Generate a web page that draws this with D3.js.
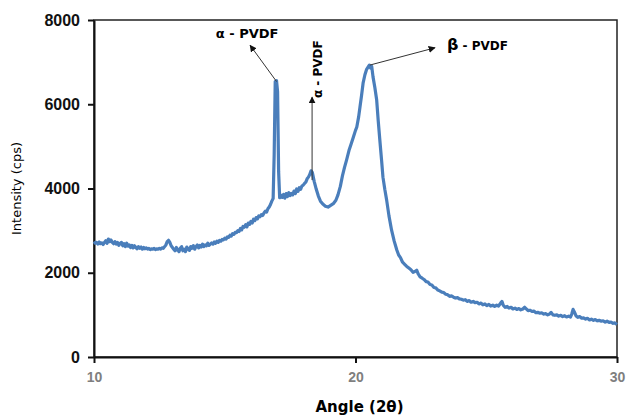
<!DOCTYPE html>
<html>
<head>
<meta charset="utf-8">
<script src="https://cdnjs.cloudflare.com/ajax/libs/d3/7.8.5/d3.min.js"></script>
<style>
  body { margin: 0; background: #fff; }
  svg { font-family: "DejaVu Sans", sans-serif; }
  .line { fill: none; stroke: #4a7ebb; stroke-width: 3.2; stroke-linejoin: round; }
</style>
</head>
<body>
<script>
// XRD scan (one row per half degree where it is dense)
var angle = [
  10.00, 10.05, 10.10, 10.15, 10.20, 10.25, 10.30, 10.35, 10.40, 10.45,
  10.50, 10.55, 10.60, 10.65, 10.70, 10.75, 10.80, 10.85, 10.90, 10.95,
  11.00, 11.05, 11.10, 11.15, 11.20, 11.25, 11.30, 11.35, 11.40, 11.45,
  11.50, 11.55, 11.60, 11.65, 11.70, 11.75, 11.80, 11.85, 11.90, 11.95,
  12.00, 12.05, 12.10, 12.15, 12.20, 12.25, 12.30, 12.35, 12.40, 12.45,
  12.50, 12.55, 12.60, 12.65, 12.70, 12.75, 12.80, 12.85, 12.90, 12.95,
  13.00, 13.05, 13.10, 13.15, 13.20, 13.25, 13.30, 13.35, 13.40, 13.45,
  13.50, 13.55, 13.60, 13.65, 13.70, 13.75, 13.80, 13.85, 13.90, 13.95,
  14.00, 14.05, 14.10, 14.15, 14.20, 14.25, 14.30, 14.35, 14.40, 14.45,
  14.50, 14.55, 14.60, 14.65, 14.70, 14.75, 14.80, 14.85, 14.90, 14.95,
  15.00, 15.05, 15.10, 15.15, 15.20, 15.25, 15.30, 15.35, 15.40, 15.45,
  15.50, 15.55, 15.60, 15.65, 15.70, 15.75, 15.80, 15.85, 15.90, 15.95,
  16.00, 16.05, 16.10, 16.15, 16.20, 16.25, 16.30, 16.35, 16.40, 16.45,
  16.50, 16.55, 16.60, 16.65, 16.70, 16.75, 16.80, 16.85,
  16.89, 16.93, 16.98, 17.02, 17.06,
  17.10, 17.15, 17.20, 17.25, 17.30, 17.35, 17.40, 17.45, 17.50, 17.55,
  17.60, 17.65, 17.70, 17.75, 17.80, 17.85, 17.90, 17.95, 18.00, 18.05,
  18.10, 18.15, 18.20, 18.25, 18.30, 18.35,
  18.42, 18.50, 18.58, 18.66, 18.75, 18.85, 18.95,
  19.05, 19.15, 19.25, 19.33, 19.42, 19.50, 19.58, 19.66, 19.75, 19.83, 19.92,
  20.00, 20.05, 20.12, 20.17, 20.23, 20.29, 20.36, 20.42, 20.48, 20.53, 20.58, 20.62, 20.67, 20.74, 20.81, 20.87, 20.94,
  21.00, 21.05, 21.12, 21.19, 21.28, 21.38, 21.48,
  21.58, 21.65, 21.72, 21.80, 21.88, 21.96, 22.04, 22.12, 22.20, 22.27,
  22.34, 22.40, 22.47, 22.55, 22.62, 22.70, 22.77, 22.85, 22.92, 23.00,
  23.07, 23.15, 23.22, 23.30, 23.37, 23.45, 23.52, 23.60, 23.67, 23.75,
  23.82, 23.90, 23.97, 24.05, 24.12, 24.20, 24.27, 24.35, 24.42, 24.50,
  24.57, 24.65, 24.72, 24.80, 24.87, 24.95, 25.02, 25.10, 25.17, 25.25,
  25.32, 25.40, 25.47, 25.55, 25.60, 25.65, 25.72, 25.80, 25.87, 25.95,
  26.02, 26.10, 26.17, 26.25, 26.32, 26.40, 26.47, 26.52, 26.60, 26.67,
  26.75, 26.82, 26.90, 26.97, 27.05, 27.12, 27.20, 27.27, 27.35, 27.42,
  27.48, 27.55, 27.62, 27.70, 27.77, 27.85, 27.92, 28.00, 28.07, 28.15,
  28.22, 28.27, 28.32, 28.37, 28.43, 28.50, 28.57, 28.65, 28.72, 28.80,
  28.87, 28.95, 29.02, 29.10, 29.17, 29.25, 29.32, 29.40, 29.47, 29.55,
  29.62, 29.70, 29.77, 29.85, 29.92, 30.00];

var intensity = [
  2740, 2700, 2720, 2680, 2730, 2690, 2710, 2670, 2720, 2760,
  2700, 2800, 2740, 2780, 2720, 2690, 2740, 2680, 2720, 2650,
  2700, 2720, 2640, 2690, 2620, 2700, 2630, 2660, 2600, 2650,
  2590, 2640, 2600, 2570, 2620, 2580, 2610, 2560, 2600, 2570,
  2590, 2560, 2580, 2550, 2570, 2560, 2580, 2550, 2570, 2560,
  2580, 2560, 2590, 2580, 2620, 2660, 2740, 2770, 2720, 2640,
  2600, 2560, 2520, 2600, 2550, 2500, 2580, 2620, 2520, 2560,
  2500, 2610, 2560, 2530, 2620, 2580, 2640, 2560, 2620, 2660,
  2590, 2650, 2610, 2680, 2620, 2660, 2640, 2700, 2650, 2680,
  2710, 2680, 2730, 2700, 2750, 2720, 2770, 2750, 2790, 2780,
  2820, 2800, 2850, 2840, 2890, 2870, 2930, 2910, 2960, 2950,
  3000, 2980, 3050, 3020, 3100, 3080, 3140, 3090, 3180, 3150,
  3220, 3180, 3270, 3240, 3310, 3280, 3350, 3330, 3380, 3360,
  3420, 3460, 3440, 3520, 3560, 3620, 3700, 3760,
  4800, 6540, 6560, 6300, 4400,
  3780, 3840, 3790, 3860, 3770, 3880, 3810, 3900, 3830, 3880,
  3850, 3940, 3880, 3990, 3930, 4020, 3980, 4060, 4080, 4120,
  4150, 4230, 4270, 4330, 4420, 4380,
  4170, 3980, 3820, 3700, 3630, 3580, 3560,
  3600, 3640, 3720, 3850, 4050, 4300, 4500, 4680, 4900, 5050, 5220,
  5380, 5460, 5700, 5930, 6200, 6500, 6700, 6820, 6880, 6930, 6860, 6900, 6650, 6400, 6100, 5600, 5080,
  4650, 4270, 3980, 3730, 3350, 3010, 2750,
  2540, 2420, 2360, 2250, 2200, 2150, 2110, 2070, 2010, 2030,
  2060, 1970, 1900, 1870, 1840, 1790, 1780, 1720, 1710, 1650,
  1640, 1590, 1570, 1540, 1530, 1490, 1480, 1440, 1450, 1420,
  1400, 1410, 1380, 1370, 1350, 1360, 1320, 1340, 1300, 1320,
  1290, 1300, 1260, 1280, 1240, 1260, 1220, 1250, 1210, 1230,
  1200, 1230, 1210, 1280, 1320, 1230, 1180, 1200, 1160, 1180,
  1140, 1160, 1130, 1150, 1120, 1140, 1180, 1150, 1100, 1110,
  1080, 1090, 1050, 1060, 1040, 1050, 1020, 1030, 1000, 1020,
  1060, 1000, 990, 1000, 970, 990, 960, 980, 950, 970,
  950, 1020, 1130, 1070, 980, 940, 960, 920, 930, 900,
  920, 880, 900, 870, 890, 860, 870, 850, 860, 830,
  850, 820, 830, 800, 810, 770];

var xTicks = [10, 20, 30];
var yTicks = [0, 2000, 4000, 6000, 8000];

// peak labels: arrow from the peak to the tip (data units)
var peakLabels = ["α - PVDF", "α - PVDF", "β - PVDF"];
var peakAngle = [16.98, 18.34, 20.55];
var peakValue = [6540, 4200, 6930];
var tipAngle = [15.97, 18.34, 23.04];
var tipValue = [7400, 6170, 7340];

var W = 627, H = 416;
var margin = { top: 20, right: 10, bottom: 59, left: 94 }
  , width = W - margin.left - margin.right
  , height = H - margin.top - margin.bottom;

var x = d3.scaleLinear().domain([10, 30]).range([0, width]);
var y = d3.scaleLinear().domain([0, 8000]).range([height, 0]);

var svg = d3.select("body").append("svg")
  .attr("width", W)
  .attr("height", H);

svg.append("defs").append("marker")
  .attr("id", "arrow")
  .attr("viewBox", "0 0 10 10")
  .attr("refX", 9).attr("refY", 5)
  .attr("markerWidth", 7).attr("markerHeight", 7)
  .attr("markerUnits", "userSpaceOnUse")
  .attr("orient", "auto")
  .append("path")
  .attr("d", "M0,0L10,5L0,10z")
  .attr("fill", "#111");

var g = svg.append("g")
  .attr("transform", "translate(" + margin.left + "," + margin.top + ")");

// box round the plot
g.append("rect")
  .attr("width", width)
  .attr("height", height)
  .attr("fill", "none")
  .attr("stroke", "#222")
  .attr("stroke-width", 1.5);

var xAxis = g.append("g")
  .attr("transform", "translate(0," + height + ")")
  .call(d3.axisBottom(x).tickValues(xTicks).tickSize(6).tickPadding(9).tickSizeOuter(0));
xAxis.selectAll("text")
  .attr("fill", "#7f7f7f")
  .style("font-size", "14px")
  .style("font-weight", "bold");

var yAxis = g.append("g")
  .call(d3.axisLeft(y).tickValues(yTicks).tickFormat(d3.format("d"))
    .tickSize(6).tickPadding(8).tickSizeOuter(0));
yAxis.selectAll("text")
  .attr("fill", "#111")
  .style("font-size", "16px")
  .style("font-weight", "bold");

g.selectAll(".domain, .tick line").attr("stroke", "#111").attr("stroke-width", 2);

// axis titles
svg.append("text")
  .attr("x", margin.left + x(20) + 4)
  .attr("y", 412)
  .attr("text-anchor", "middle")
  .style("font-size", "15px")
  .style("font-weight", "bold")
  .text("Angle (2θ)");

svg.append("text")
  .attr("transform", "translate(21," + (margin.top + height / 2) + ") rotate(-90)")
  .attr("text-anchor", "middle")
  .style("font-size", "13px")
  .text("Intensity (cps)");

var data = angle.map(function (a, i) { return { a: a, v: intensity[i] }; });

var line = d3.line()
  .x(function (d) { return x(d.a); })
  .y(function (d) { return y(d.v); });

g.append("path")
  .datum(data)
  .attr("class", "line")
  .attr("d", line);

// arrows
g.selectAll(".arrow")
  .data(peakLabels)
  .enter().append("line")
  .attr("class", "arrow")
  .attr("x1", function (d, i) { return x(peakAngle[i]); })
  .attr("y1", function (d, i) { return y(peakValue[i]); })
  .attr("x2", function (d, i) { return x(tipAngle[i]); })
  .attr("y2", function (d, i) { return y(tipValue[i]); })
  .attr("stroke", "#333")
  .attr("stroke-width", 1)
  .attr("marker-end", "url(#arrow)");

// first alpha label, above its arrow
g.append("text")
  .attr("x", x(tipAngle[0]) - 3)
  .attr("y", y(tipValue[0]) - 7)
  .attr("text-anchor", "middle")
  .style("font-size", "13px")
  .style("font-weight", "bold")
  .text(peakLabels[0]);

// second alpha label, turned up beside its arrow
g.append("text")
  .attr("transform", "translate(" + (x(tipAngle[1]) + 10) + "," + (y(tipValue[1]) + 1) + ") rotate(-90)")
  .attr("text-anchor", "start")
  .style("font-size", "12px")
  .style("font-weight", "bold")
  .text(peakLabels[1]);

// beta label, right of its arrow
var beta = g.append("text")
  .attr("x", x(tipAngle[2]) + 12)
  .attr("y", y(tipValue[2]) + 2)
  .style("font-weight", "bold");
beta.append("tspan").style("font-size", "16px").text(peakLabels[2].slice(0, 1));
beta.append("tspan").style("font-size", "12px").text(peakLabels[2].slice(1));
</script>
</body>
</html>
